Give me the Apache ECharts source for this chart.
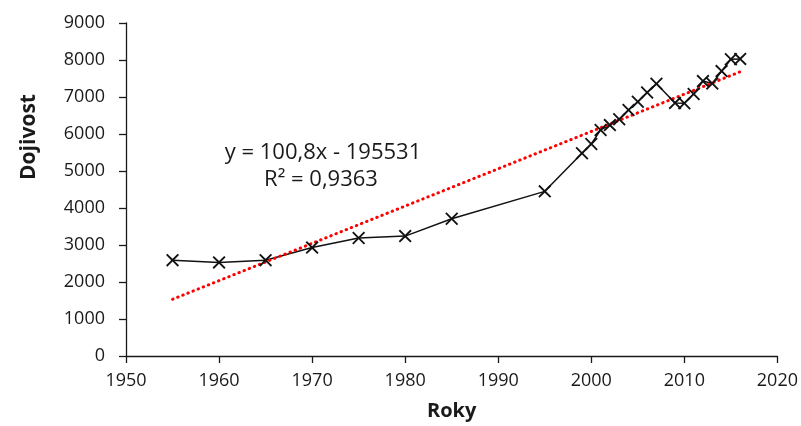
<!DOCTYPE html>
<html><head><meta charset="utf-8">
<script src="https://cdn.jsdelivr.net/npm/echarts@6/dist/echarts.min.js"></script>
<style>html,body{margin:0;padding:0;background:#fff}#c{width:801px;height:426px}</style>
</head><body><div id="c"></div>
<script>
const years = [1955,1960,1965,1970,1975,1980,1985,1995,1999,2000,2001,2002,2003,2004,2005,2006,2007,2009,2010,2011,2012,2013,2014,2015,2016];
const milkYield = [2590,2530,2590,2930,3190,3240,3710,4450,5480,5730,6110,6240,6400,6650,6870,7120,7360,6840,6830,7080,7430,7365,7700,8020,8030];
const trendYears = [1955,2016];
const trendValues = [1533,7682];
const xTicks = {min:1950,max:2020,interval:10};
const yTicks = {min:0,max:9000,interval:1000};
const eqLine1 = 'y = 100,8x - 195531';
const eqLine2 = 'R² = 0,9363';
const xTitle = 'Roky';
const yTitle = 'Dojivost';

const FONT = 'Open Sans';
const TXT = '#1a1a1a';
const chart = echarts.init(document.getElementById('c'), null, {renderer:'canvas'});
const xSym = 'path://M0,1L1,0L5,4L9,0L10,1L6,5L10,9L9,10L5,6L1,10L0,9L4,5Z';
chart.setOption({
  animation:false,
  backgroundColor:'#fff',
  grid:{left:126,right:23,top:23,bottom:67},
  xAxis:{type:'value',min:xTicks.min,max:xTicks.max,interval:xTicks.interval,
    name:xTitle,nameLocation:'middle',nameGap:45,
    nameTextStyle:{fontFamily:FONT,fontWeight:'bold',fontSize:20,color:TXT},
    axisLine:{lineStyle:{color:TXT,width:1.3}},
    axisTick:{length:7,lineStyle:{color:TXT,width:1.3}},
    splitLine:{show:false},
    axisLabel:{fontFamily:FONT,fontSize:18,color:TXT,margin:16,formatter:v=>String(v)}},
  yAxis:{type:'value',min:yTicks.min,max:yTicks.max,interval:yTicks.interval,
    axisLine:{show:true,lineStyle:{color:TXT,width:1.3}},
    axisTick:{show:true,length:7,lineStyle:{color:TXT,width:1.3}},
    splitLine:{show:false},
    axisLabel:{fontFamily:FONT,fontSize:18,color:TXT,margin:21,formatter:v=>String(v)}},
  series:[
    {type:'line',data:years.map((y,i)=>[y,milkYield[i]]),
     symbol:xSym,symbolSize:13,showAllSymbol:true,
     lineStyle:{color:'#111',width:1.5},itemStyle:{color:'#111'}},
    {type:'line',data:trendYears.map((y,i)=>[y,trendValues[i]]),
     symbol:'none',lineStyle:{color:'#ff0000',width:3,type:[0.5,5],cap:'round'}}
  ],
  graphic:[
    {type:'text',x:323,y:153,style:{text:eqLine1,align:'center',verticalAlign:'middle',fontFamily:FONT,fontSize:22,fill:TXT}},
    {type:'text',x:321,y:180,style:{text:eqLine2,align:'center',verticalAlign:'middle',fontFamily:FONT,fontSize:22,fill:TXT}},
    {type:'text',x:29,y:137,rotation:Math.PI/2,style:{text:yTitle,align:'center',verticalAlign:'middle',fontFamily:FONT,fontWeight:'bold',fontSize:21,fill:TXT}}
  ]
});
</script></body></html>
